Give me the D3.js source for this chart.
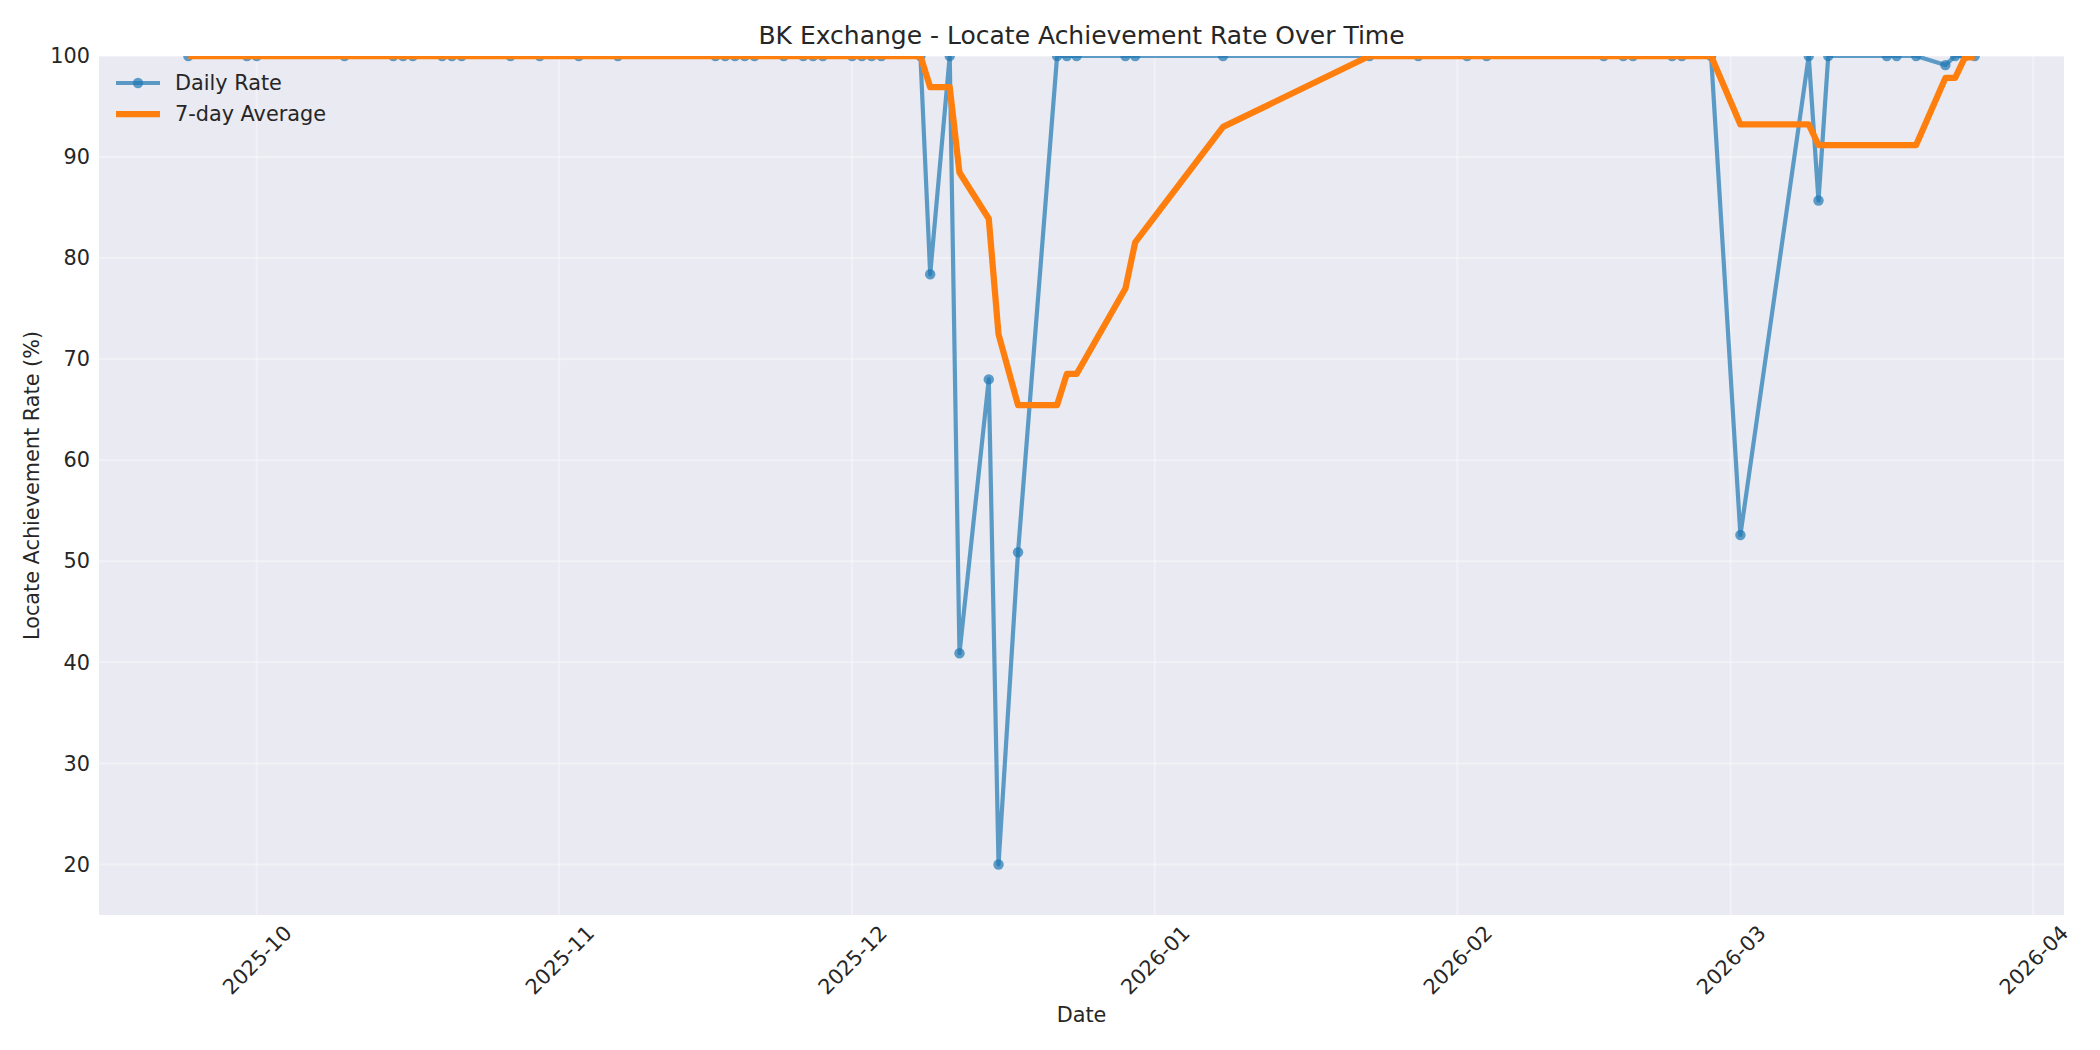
<!DOCTYPE html>
<html>
<head>
<meta charset="utf-8">
<script src="https://cdn.jsdelivr.net/npm/d3@7"></script>
<style>
  body { margin: 0; background: #fff; }
  text { font-family: "DejaVu Sans", sans-serif; fill: #262626; }
</style>
</head>
<body>
<div id="chart"></div>
<script>
// Data
const dates = [
  "2025-09-24", "2025-09-30", "2025-10-01", "2025-10-10", "2025-10-15", "2025-10-16",
  "2025-10-17", "2025-10-20", "2025-10-21", "2025-10-22", "2025-10-27", "2025-10-30",
  "2025-11-03", "2025-11-07", "2025-11-17", "2025-11-18", "2025-11-19", "2025-11-20",
  "2025-11-21", "2025-11-24", "2025-11-26", "2025-11-27", "2025-11-28", "2025-12-01",
  "2025-12-02", "2025-12-03", "2025-12-04", "2025-12-08", "2025-12-09", "2025-12-11",
  "2025-12-12", "2025-12-15", "2025-12-16", "2025-12-18", "2025-12-22", "2025-12-23",
  "2025-12-24", "2025-12-29", "2025-12-30", "2026-01-08", "2026-01-23", "2026-01-28",
  "2026-02-02", "2026-02-04", "2026-02-16", "2026-02-18", "2026-02-19", "2026-02-23",
  "2026-02-24", "2026-02-27", "2026-03-02", "2026-03-09", "2026-03-10", "2026-03-11",
  "2026-03-17", "2026-03-18", "2026-03-20", "2026-03-23", "2026-03-24", "2026-03-25",
  "2026-03-26",
];

const dailyRate = [
  100, 100, 100, 100, 100, 100,
  100, 100, 100, 100, 100, 100,
  100, 100, 100, 100, 100, 100,
  100, 100, 100, 100, 100, 100,
  100, 100, 100, 100, 78.4, 100,
  40.9, 68, 20, 50.9, 100, 100,
  100, 100, 100, 100, 100, 100,
  100, 100, 100, 100, 100, 100,
  100, 100, 52.6, 100, 85.7, 100,
  100, 100, 100, 99.1, 100, 100,
  100,
];

const avgRate = [
  100, 100, 100, 100, 100, 100,
  100, 100, 100, 100, 100, 100,
  100, 100, 100, 100, 100, 100,
  100, 100, 100, 100, 100, 100,
  100, 100, 100, 100, 96.91, 96.91,
  88.47, 83.9, 72.47, 65.46, 65.46, 68.54,
  68.54, 76.99, 81.56, 92.99, 100, 100,
  100, 100, 100, 100, 100, 100,
  100, 100, 93.23, 93.23, 91.19, 91.19,
  91.19, 91.19, 91.19, 97.83, 97.83, 99.87,
  99.87,
];

const yTicks = [20, 30, 40, 50, 60, 70, 80, 90, 100];
const seriesNames = ["Daily Rate", "7-day Average"];

function draw() {
  const parseDate = d3.timeParse("%Y-%m-%d");
  const dataset = dates.map((d, i) => ({
    date: parseDate(d),
    daily: dailyRate[i],
    avg: avgRate[i],
  }));

  const xAccessor = (d) => d.date;

  // Dimensions
  let dimensions = {
    width: 2100,
    height: 1050,
    margins: { top: 56, right: 36, bottom: 135, left: 99 },
  };
  dimensions.ctrWidth =
    dimensions.width - dimensions.margins.left - dimensions.margins.right;
  dimensions.ctrHeight =
    dimensions.height - dimensions.margins.top - dimensions.margins.bottom;

  const blue = "#1f77b4";
  const orange = "#ff7f0e";
  const dotR = 5.2;

  // Draw Image
  const svg = d3
    .select("#chart")
    .append("svg")
    .attr("width", dimensions.width)
    .attr("height", dimensions.height);

  const ctr = svg
    .append("g")
    .attr(
      "transform",
      `translate(${dimensions.margins.left}, ${dimensions.margins.top})`
    );

  ctr
    .append("rect")
    .attr("width", dimensions.ctrWidth)
    .attr("height", dimensions.ctrHeight)
    .attr("fill", "#eaeaf2");

  svg
    .append("clipPath")
    .attr("id", "plot-clip")
    .append("rect")
    .attr("width", dimensions.ctrWidth)
    .attr("height", dimensions.ctrHeight);

  // Scales (matplotlib-style 5% padding on the dates)
  const [minDate, maxDate] = d3.extent(dataset, xAccessor);
  const pad = (maxDate - minDate) * 0.05;
  const xScale = d3
    .scaleTime()
    .domain([new Date(+minDate - pad), new Date(+maxDate + pad)])
    .range([0, dimensions.ctrWidth]);

  const yScale = d3
    .scaleLinear()
    .domain([15, 100])
    .range([dimensions.ctrHeight, 0]);

  // Grid
  const monthTicks = xScale.ticks(d3.timeMonth.every(1));

  ctr
    .append("g")
    .selectAll("line")
    .data(monthTicks)
    .join("line")
    .attr("x1", (d) => xScale(d))
    .attr("x2", (d) => xScale(d))
    .attr("y1", 0)
    .attr("y2", dimensions.ctrHeight)
    .attr("stroke", "#fff")
    .attr("stroke-opacity", 0.35)
    .attr("stroke-width", 2);

  ctr
    .append("g")
    .selectAll("line")
    .data(yTicks)
    .join("line")
    .attr("x1", 0)
    .attr("x2", dimensions.ctrWidth)
    .attr("y1", (d) => yScale(d))
    .attr("y2", (d) => yScale(d))
    .attr("stroke", "#fff")
    .attr("stroke-opacity", 0.35)
    .attr("stroke-width", 2);

  // Lines
  const plot = ctr.append("g").attr("clip-path", "url(#plot-clip)");

  const dailyLine = d3
    .line()
    .x((d) => xScale(xAccessor(d)))
    .y((d) => yScale(d.daily));

  const avgLine = d3
    .line()
    .x((d) => xScale(xAccessor(d)))
    .y((d) => yScale(d.avg));

  plot
    .append("path")
    .datum(dataset)
    .attr("d", dailyLine)
    .attr("fill", "none")
    .attr("stroke", blue)
    .attr("stroke-opacity", 0.7)
    .attr("stroke-width", 4.2)
    .attr("stroke-linejoin", "round");

  plot
    .append("g")
    .selectAll("circle")
    .data(dataset)
    .join("circle")
    .attr("cx", (d) => xScale(xAccessor(d)))
    .attr("cy", (d) => yScale(d.daily))
    .attr("r", dotR)
    .attr("fill", blue)
    .attr("fill-opacity", 0.7);

  plot
    .append("path")
    .datum(dataset)
    .attr("d", avgLine)
    .attr("fill", "none")
    .attr("stroke", orange)
    .attr("stroke-width", 6.25)
    .attr("stroke-linejoin", "round");

  // Axes
  const xAxis = d3
    .axisBottom(xScale)
    .tickValues(monthTicks)
    .tickFormat(d3.timeFormat("%Y-%m"))
    .tickSize(0);

  const xAxisGroup = ctr
    .append("g")
    .call(xAxis)
    .attr("transform", `translate(0, ${dimensions.ctrHeight})`);

  xAxisGroup.select(".domain").remove();
  xAxisGroup
    .selectAll("text")
    .attr("y", 0)
    .attr("dy", "0.35em")
    .attr("transform", "translate(0, 45) rotate(-45)")
    .style("text-anchor", "middle")
    .attr("font-size", 20.8)
    .attr("font-family", "DejaVu Sans")
    .attr("fill", "#262626");

  xAxisGroup
    .append("text")
    .attr("x", dimensions.ctrWidth / 2)
    .attr("y", 100)
    .attr("dy", "0.35em")
    .attr("text-anchor", "middle")
    .attr("font-size", 20.8)
    .text("Date");

  const yAxis = d3.axisLeft(yScale).tickValues(yTicks).tickSize(0).tickPadding(9);

  const yAxisGroup = ctr.append("g").call(yAxis);
  yAxisGroup.select(".domain").remove();
  yAxisGroup
    .selectAll("text")
    .attr("font-size", 20.8)
    .attr("font-family", "DejaVu Sans")
    .attr("fill", "#262626");

  yAxisGroup
    .append("text")
    .attr("transform", "rotate(-90)")
    .attr("x", -dimensions.ctrHeight / 2)
    .attr("y", -67)
    .attr("dy", "0.35em")
    .attr("text-anchor", "middle")
    .attr("font-size", 20.8)
    .text("Locate Achievement Rate (%)");

  // Title
  svg
    .append("text")
    .attr("x", dimensions.margins.left + dimensions.ctrWidth / 2)
    .attr("y", 35)
    .attr("dy", "0.35em")
    .attr("text-anchor", "middle")
    .attr("font-size", 25)
    .text("BK Exchange - Locate Achievement Rate Over Time");

  // Legend
  const legend = ctr.append("g").attr("transform", "translate(17, 27)");
  const rows = legend
    .selectAll("g")
    .data(seriesNames)
    .join("g")
    .attr("transform", (d, i) => `translate(0, ${i * 31})`);

  rows
    .append("line")
    .attr("x1", 0)
    .attr("x2", 44)
    .attr("stroke", (d, i) => (i === 0 ? blue : orange))
    .attr("stroke-opacity", (d, i) => (i === 0 ? 0.7 : 1))
    .attr("stroke-width", (d, i) => (i === 0 ? 4.2 : 6.25));

  rows
    .filter((d, i) => i === 0)
    .append("circle")
    .attr("cx", 22)
    .attr("r", dotR)
    .attr("fill", blue)
    .attr("fill-opacity", 0.7);

  rows
    .append("text")
    .attr("x", 59)
    .attr("dy", "0.35em")
    .attr("font-size", 20.8)
    .text((d) => d);
}

draw();
</script>
</body>
</html>
